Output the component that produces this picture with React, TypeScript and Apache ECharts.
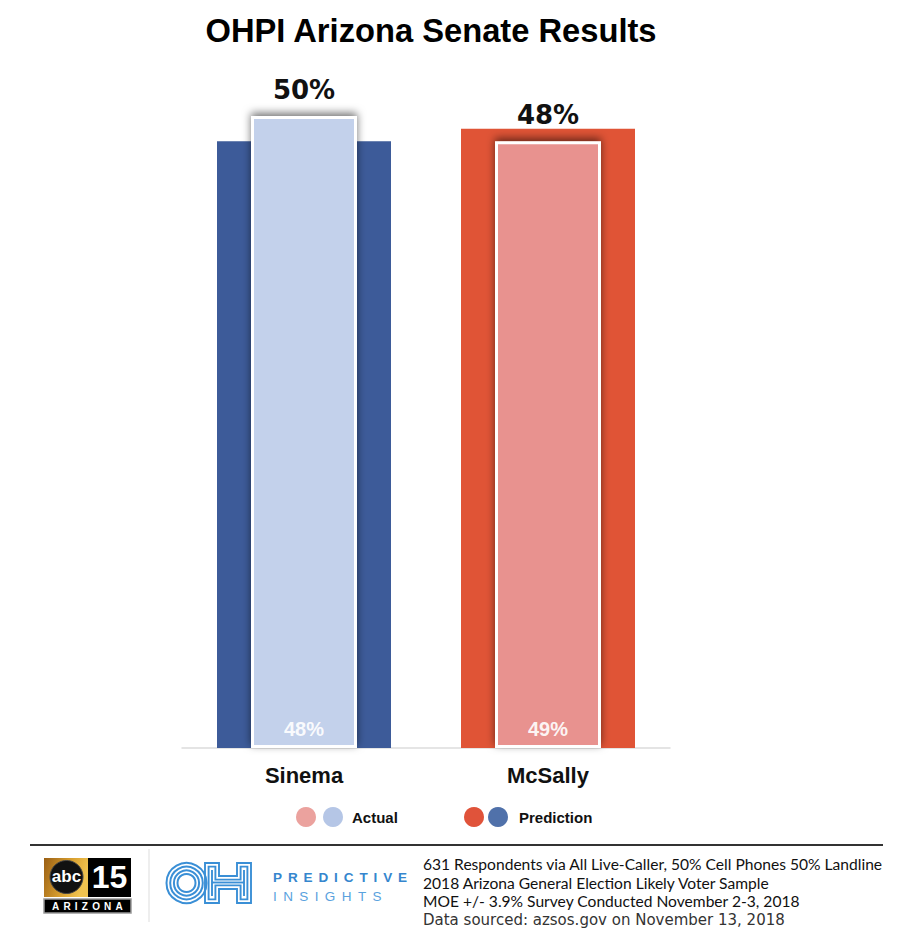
import React, { useEffect, useRef } from "react";
import * as echarts from "echarts";

const categories = ["Sinema", "McSally"];
const actual = [50, 48];
const prediction = [48, 49];

const titleText = "OHPI Arizona Senate Results";
const legendLabels = ["Actual", "Prediction"];
const footerLines = [
  "631 Respondents via All Live-Caller, 50% Cell Phones 50% Landline",
  "2018 Arizona General Election Likely Voter Sample",
  "MOE +/- 3.9% Survey Conducted November 2-3, 2018",
];
const sourceLine = "Data sourced: azsos.gov on November 13, 2018";

const predColors = ["#3D5B99", "#E05436"];
const actColors = ["#C3D1EB", "#E8928F"];
const legendActColors = ["#EBA29E", "#B5C6E6"];
const legendPredColors = ["#E0533A", "#5071AA"];
const FONT = "'Liberation Sans', Arial, sans-serif";
const LOGO_BLUE = "#3A8FD6";

function spaced(
  text: string,
  x: number,
  cy: number,
  fontSize: number,
  fontWeight: string,
  spacing: number,
  color: string
) {
  const canvas = document.createElement("canvas");
  const ctx = canvas.getContext("2d")!;
  ctx.font = `${fontWeight} ${fontSize}px "Liberation Sans"`;
  let cx = x;
  const els: any[] = [];
  for (const ch of text) {
    els.push({
      type: "text",
      x: cx,
      y: cy,
      silent: true,
      style: {
        text: ch,
        fill: color,
        fontSize,
        fontWeight,
        fontFamily: FONT,
        textAlign: "left",
        textVerticalAlign: "middle",
      },
    });
    cx += ctx.measureText(ch).width + spacing;
  }
  return els;
}

function hOutline(x0: number, x1: number, y0: number, y1: number, s: number, cb0: number, cb1: number, d: number) {
  return [
    [x0 + d, y0 + d],
    [x0 + s - d, y0 + d],
    [x0 + s - d, cb0 + d],
    [x1 - s + d, cb0 + d],
    [x1 - s + d, y0 + d],
    [x1 - d, y0 + d],
    [x1 - d, y1 - d],
    [x1 - s + d, y1 - d],
    [x1 - s + d, cb1 - d],
    [x0 + s - d, cb1 - d],
    [x0 + s - d, y1 - d],
    [x0 + d, y1 - d],
  ];
}

function buildGraphics() {
  const g: any[] = [];
  // Legend
  const ly = 817;
  g.push({ type: "circle", shape: { cx: 306, cy: ly, r: 10 }, style: { fill: legendActColors[0] }, silent: true });
  g.push({ type: "circle", shape: { cx: 333, cy: ly, r: 10 }, style: { fill: legendActColors[1] }, silent: true });
  g.push({
    type: "text", x: 352, y: ly, silent: true,
    style: { text: legendLabels[0], fill: "#111", fontSize: 15, fontWeight: "bold", fontFamily: FONT, textAlign: "left", textVerticalAlign: "middle" },
  });
  g.push({ type: "circle", shape: { cx: 474, cy: ly, r: 10 }, style: { fill: legendPredColors[0] }, silent: true });
  g.push({ type: "circle", shape: { cx: 498, cy: ly, r: 10 }, style: { fill: legendPredColors[1] }, silent: true });
  g.push({
    type: "text", x: 519, y: ly, silent: true,
    style: { text: legendLabels[1], fill: "#111", fontSize: 15, fontWeight: "bold", fontFamily: FONT, textAlign: "left", textVerticalAlign: "middle" },
  });

  // Footer rule
  g.push({ type: "line", shape: { x1: 30, y1: 845, x2: 883, y2: 845 }, style: { stroke: "#333", lineWidth: 2 }, silent: true });
  // divider
  g.push({ type: "line", shape: { x1: 149, y1: 849, x2: 149, y2: 922 }, style: { stroke: "#dddddd", lineWidth: 1 }, silent: true });

  // abc15 logo
  g.push({
    type: "rect", shape: { x: 44, y: 858, width: 44, height: 39 }, silent: true,
    style: {
      fill: new echarts.graphic.LinearGradient(0, 0, 1, 0.3, [
        { offset: 0, color: "#9a5f14" },
        { offset: 0.6, color: "#d9a030" },
        { offset: 1, color: "#f0c350" },
      ]),
    },
  });
  g.push({ type: "rect", shape: { x: 88, y: 858, width: 43, height: 39 }, style: { fill: "#000" }, silent: true });
  g.push({ type: "circle", shape: { cx: 66.5, cy: 877, r: 16.5 }, style: { fill: "#111", stroke: "#444", lineWidth: 1 }, silent: true });
  g.push({
    type: "text", x: 66.5, y: 876, silent: true,
    style: { text: "abc", fill: "#fff", fontSize: 17, fontWeight: "bold", fontFamily: FONT, textAlign: "center", textVerticalAlign: "middle" },
  });
  g.push({
    type: "text", x: 109.5, y: 877, silent: true,
    style: { text: "15", fill: "#fff", fontSize: 32, fontWeight: "bold", fontFamily: FONT, textAlign: "center", textVerticalAlign: "middle" },
  });
  g.push({ type: "rect", shape: { x: 44, y: 899, width: 87, height: 14 }, style: { fill: "#000", stroke: "#999", lineWidth: 1.5 }, silent: true });
  g.push(...spaced("ARIZONA", 52, 906.5, 10, "bold", 4.2, "#fff"));

  // OH logo
  [20, 16.3, 12.6, 9].forEach((r) => {
    g.push({ type: "circle", shape: { cx: 186.5, cy: 883, r }, style: { fill: "none", stroke: LOGO_BLUE, lineWidth: 2 }, silent: true });
  });
  const hx0 = 204, hx1 = 252, hy0 = 862, hy1 = 904, hs = 16, cb0 = 875, cb1 = 890;
  [1, 4.6].forEach((d) => {
    g.push({
      type: "polygon", silent: true,
      shape: { points: hOutline(hx0, hx1, hy0, hy1, hs, cb0, cb1, d) },
      style: { fill: "none", stroke: LOGO_BLUE, lineWidth: 1.9 },
    });
  });
  const mid = (cb0 + cb1) / 2;
  g.push({ type: "line", shape: { x1: hx0 + hs / 2, y1: hy0 + 8, x2: hx0 + hs / 2, y2: hy1 - 8 }, style: { stroke: LOGO_BLUE, lineWidth: 1.9 }, silent: true });
  g.push({ type: "line", shape: { x1: hx1 - hs / 2, y1: hy0 + 8, x2: hx1 - hs / 2, y2: hy1 - 8 }, style: { stroke: LOGO_BLUE, lineWidth: 1.9 }, silent: true });
  g.push({ type: "line", shape: { x1: hx0 + hs / 2, y1: mid, x2: hx1 - hs / 2, y2: mid }, style: { stroke: LOGO_BLUE, lineWidth: 1.9 }, silent: true });

  g.push(...spaced("PREDICTIVE", 273, 877, 13.5, "bold", 5.9, "#3586CE"));
  g.push(...spaced("INSIGHTS", 273, 896.5, 13.5, "normal", 6.4, "#5AA2DE"));

  // Footer text
  const ys = [864, 882.5, 901];
  footerLines.forEach((t, i) => {
    g.push({
      type: "text", x: 423, y: ys[i], silent: true,
      style: { text: t, fill: "#111", fontSize: 15.6, fontFamily: "Lato, 'Open Sans', sans-serif", textAlign: "left", textVerticalAlign: "middle" },
    });
  });
  g.push({
    type: "text", x: 423, y: 920, silent: true,
    style: { text: sourceLine, fill: "#333", fontSize: 15, fontFamily: "'DejaVu Sans', sans-serif", textAlign: "left", textVerticalAlign: "middle" },
  });
  return g;
}

export default function App() {
  const ref = useRef<HTMLDivElement>(null);
  useEffect(() => {
    if (!ref.current) return;
    const chart = echarts.init(ref.current, undefined, { renderer: "svg" });
    const hiddenAxis = { type: "category", data: categories, show: false, position: "bottom" };
    chart.setOption({
      animation: false,
      backgroundColor: "#ffffff",
      title: {
        text: titleText,
        left: 426,
        top: 9,
        textAlign: "center",
        textStyle: { fontSize: 32.7, fontWeight: "bold", color: "#000", fontFamily: FONT },
      },
      grid: { left: 182, right: 230, top: 116, bottom: 198 },
      xAxis: [
        {
          type: "category",
          data: categories,
          position: "bottom",
          axisLine: { show: true, lineStyle: { color: "#dcdcdc", width: 1.5 } },
          axisTick: { show: false },
          axisLabel: { margin: 16, fontSize: 22, fontWeight: "bold", color: "#111", fontFamily: FONT },
        },
        hiddenAxis,
        hiddenAxis,
      ],
      yAxis: { type: "value", min: 0, max: 50, show: false, splitLine: { show: false } },
      series: [
        {
          name: "Prediction",
          type: "bar",
          xAxisIndex: 0,
          barWidth: 174,
          z: 2,
          data: prediction.map((v, i) => ({ value: v, itemStyle: { color: predColors[i] } })),
        },
        {
          name: "Actual",
          type: "bar",
          xAxisIndex: 1,
          barWidth: 106,
          z: 3,
          data: actual.map((v, i) => ({
            value: v,
            itemStyle: {
              color: actColors[i],
              borderColor: "#ffffff",
              borderWidth: 3,
              shadowBlur: 8,
              shadowColor: "rgba(0,0,0,0.55)",
              shadowOffsetY: -3,
            },
          })),
          label: {
            show: true,
            position: "top",
            distance: 13,
            formatter: "{c}%",
            fontSize: 26,
            fontWeight: "bold",
            color: "#111",
            fontFamily: "'DejaVu Sans', sans-serif",
          },
        },
        {
          name: "PredictionLabel",
          type: "bar",
          xAxisIndex: 2,
          barWidth: 106,
          z: 4,
          silent: true,
          itemStyle: { color: "rgba(0,0,0,0)" },
          data: prediction,
          label: {
            show: true,
            position: "insideBottom",
            distance: 9,
            formatter: "{c}%",
            fontSize: 20,
            fontWeight: "bold",
            color: "rgba(255,255,255,0.92)",
            fontFamily: FONT,
          },
        },
      ],
      graphic: buildGraphics(),
    });
    return () => chart.dispose();
  }, []);
  return (
    <div
      ref={ref}
      style={{ position: "fixed", left: 0, top: 0, width: 900, height: 946, background: "#fff" }}
    />
  );
}
